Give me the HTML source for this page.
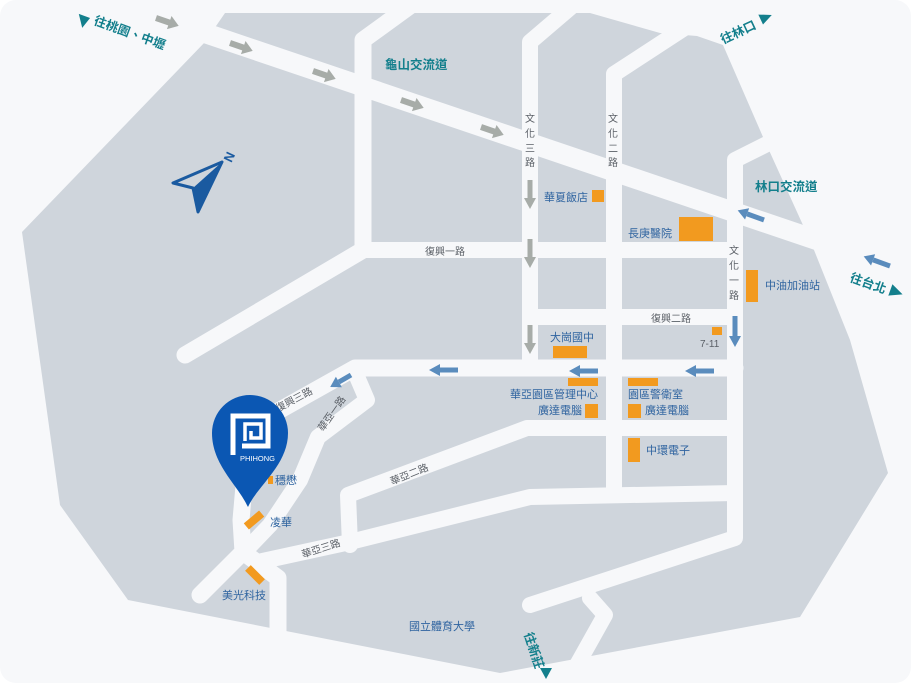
<!DOCTYPE html>
<html><head><meta charset="utf-8"><style>
html,body{margin:0;padding:0;background:#fff;}
svg{display:block;font-family:"Liberation Sans","Noto Sans CJK TC",sans-serif;}
.b{fill:#2f64a0;font-size:11px;}
.g{fill:#5a5f66;font-size:10px;}
.t{fill:#137f8c;font-size:12.5px;font-weight:bold;}
</style></head><body>
<svg width="911" height="683" viewBox="0 0 911 683" xmlns="http://www.w3.org/2000/svg">
<rect x="0" y="0" width="911" height="683" rx="16" fill="#f7f8fa"/>
<polygon fill="#cfd5dc" points="22,232 205,42 225,13 590,13 660,33 697,36 723,45 763,137 812,245 850,340 888,473 800,617 500,673 128,600 60,505"/>
<g fill="none" stroke="#f7f8fa" stroke-linecap="round" stroke-linejoin="round">
<polyline stroke-width="20" points="190,28 911,272"/>
<polyline stroke-width="17" points="425,-5 363,40 363,250 185,355"/>
<polyline stroke-width="16" points="363,250 735,250"/>
<polyline stroke-width="16" points="585,-5 530,42 530,368"/>
<polyline stroke-width="16" points="712,10 614,74 614,493"/>
<polyline stroke-width="16" points="795,130 735,160 735,538 530,605"/>
<polyline stroke-width="16" points="530,317 735,317"/>
<polyline stroke-width="17" points="735,368 355,368 248,428"/>
<polyline stroke-width="16" points="355,372 367,400 318,437 300,480 270,525 248,548"/>
<polyline stroke-width="17" points="248,440 241,520 243,552 200,595"/>
<polyline stroke-width="17" points="243,552 278,578 278,640"/>
<polyline stroke-width="16" points="258,562 350,542 530,497 735,493"/>
<polyline stroke-width="16" points="350,545 348,495 527,428 735,428"/>
<polyline stroke-width="16" points="590,598 605,615 563,690"/>
</g>
<!-- compass -->
<polygon points="222,162 173,183 193,188 198,212" fill="none" stroke="#1a5aa0" stroke-width="3" stroke-linejoin="round"/>
<polygon points="222,162 193,188 198,212" fill="#1a5aa0"/>
<text x="223" y="162" transform="rotate(-65 228 156)" fill="#1a5aa0" font-size="13" font-weight="bold">N</text>
<!-- grey arrows -->
<g fill="#a7aca8">
<g transform="translate(156,18) rotate(19)"><rect x="0" y="-3" width="15" height="6"/><polygon points="14,-7 24,0 14,7"/></g>
<g transform="translate(230,43) rotate(19)"><rect x="0" y="-3" width="15" height="6"/><polygon points="14,-7 24,0 14,7"/></g>
<g transform="translate(313,71) rotate(19)"><rect x="0" y="-3" width="15" height="6"/><polygon points="14,-7 24,0 14,7"/></g>
<g transform="translate(401,100) rotate(19)"><rect x="0" y="-3" width="15" height="6"/><polygon points="14,-7 24,0 14,7"/></g>
<g transform="translate(481,127) rotate(19)"><rect x="0" y="-3" width="15" height="6"/><polygon points="14,-7 24,0 14,7"/></g>
<g transform="translate(530,180) rotate(90)"><rect x="0" y="-2.5" width="18" height="5"/><polygon points="18,-6 29,0 18,6"/></g>
<g transform="translate(530,239) rotate(90)"><rect x="0" y="-2.5" width="18" height="5"/><polygon points="18,-6 29,0 18,6"/></g>
<g transform="translate(530,325) rotate(90)"><rect x="0" y="-2.5" width="18" height="5"/><polygon points="18,-6 29,0 18,6"/></g>
</g>
<!-- blue arrows -->
<g fill="#5a8cbd">
<g transform="translate(764,220) rotate(-160)"><rect x="0" y="-2.5" width="18" height="5"/><polygon points="18,-6 28,0 18,6"/></g>
<g transform="translate(890,266) rotate(-160)"><rect x="0" y="-2.5" width="18" height="5"/><polygon points="18,-6 28,0 18,6"/></g>
<g transform="translate(735,316) rotate(90)"><rect x="0" y="-2.5" width="20" height="5"/><polygon points="20,-6 31,0 20,6"/></g>
<g transform="translate(714,371) rotate(180)"><rect x="0" y="-2.5" width="18" height="5"/><polygon points="18,-6 29,0 18,6"/></g>
<g transform="translate(598,371) rotate(180)"><rect x="0" y="-2.5" width="18" height="5"/><polygon points="18,-6 29,0 18,6"/></g>
<g transform="translate(458,370) rotate(180)"><rect x="0" y="-2.5" width="18" height="5"/><polygon points="18,-6 29,0 18,6"/></g>
<g transform="translate(351,375) rotate(150)"><rect x="0" y="-2.5" width="14" height="5"/><polygon points="14,-6 24,0 14,6"/></g>
</g>
<!-- orange -->
<g fill="#f29a1f">
<rect x="592" y="190" width="12" height="12"/>
<rect x="679" y="217" width="34" height="24"/>
<rect x="746" y="270" width="12" height="32"/>
<rect x="712" y="327" width="10" height="8"/>
<rect x="553" y="346" width="34" height="12"/>
<rect x="568" y="378" width="30" height="8"/>
<rect x="585" y="404" width="13" height="14"/>
<rect x="628" y="378" width="30" height="8"/>
<rect x="628" y="404" width="13" height="14"/>
<rect x="628" y="438" width="12" height="24"/>
<rect x="268" y="476" width="5" height="8"/>
<rect x="250" y="510" width="8" height="20" transform="rotate(50 254 520)"/>
<rect x="251" y="565" width="8" height="20" transform="rotate(-45 255 575)"/>
</g>
<!-- labels -->
<polygon points="77,16 89,16 85,28" fill="#137f8c" transform="rotate(20 84 20)"/>
<text class="t" x="93" y="24" transform="rotate(20 93 24)">往桃園、中壢</text>
<text class="t" x="385" y="69">龜山交流道</text>
<text class="t" x="755" y="191">林口交流道</text>
<text class="t" x="723" y="44" transform="rotate(-25 723 44)">往林口</text>
<polygon points="760,12 772,18 760,23" fill="#137f8c" transform="rotate(-25 765 17)"/>
<text class="t" x="849" y="281" transform="rotate(20 849 281)">往台北</text>
<polygon points="890,286 903,292 890,298" fill="#137f8c" transform="rotate(20 896 292)"/>
<text class="t" x="524" y="634" transform="rotate(72 524 634)">往新莊</text>
<polygon points="540,668 552,668 546,679" fill="#137f8c"/>
<g class="g" text-anchor="middle">
<text x="530" y="122">文</text><text x="530" y="137">化</text><text x="530" y="152">三</text><text x="530" y="166">路</text>
<text x="613" y="122">文</text><text x="613" y="137">化</text><text x="613" y="152">二</text><text x="613" y="166">路</text>
<text x="734" y="254">文</text><text x="734" y="269">化</text><text x="734" y="284">一</text><text x="734" y="299">路</text>
</g>
<text class="g" x="425" y="255">復興一路</text>
<text class="g" x="651" y="322">復興二路</text>
<text class="g" x="700" y="347">7-11</text>
<text class="g" x="278" y="412" transform="rotate(-28 278 412)">復興三路</text>
<text class="g" x="323" y="432" transform="rotate(-55 323 432)">華亞一路</text>
<text class="g" x="392" y="485" transform="rotate(-22 392 485)">華亞二路</text>
<text class="g" x="303" y="558" transform="rotate(-18 303 558)">華亞三路</text>
<text class="b" x="544" y="201">華夏飯店</text>
<text class="b" x="628" y="237">長庚醫院</text>
<text class="b" x="765" y="289">中油加油站</text>
<text class="b" x="550" y="341">大崗國中</text>
<text class="b" x="510" y="398">華亞園區管理中心</text>
<text class="b" x="538" y="414">廣達電腦</text>
<text class="b" x="628" y="398">園區警衛室</text>
<text class="b" x="645" y="414">廣達電腦</text>
<text class="b" x="646" y="454">中環電子</text>
<text class="b" x="275" y="484">穩懋</text>
<text class="b" x="270" y="526">凌華</text>
<text class="b" x="222" y="599">美光科技</text>
<text class="b" x="409" y="630">國立體育大學</text>
<!-- pin -->
<path d="M248,507 C238,485 212,465 212,433 A38,38 0 1 1 288,433 C288,465 258,485 248,507 Z" fill="#0b57b3"/>
<g fill="none" stroke="#fff">
<path d="M233,455 V416 H268 V446 H242" stroke-width="5"/>
<path d="M245,441 V424 H261 V438 H251 V431" stroke-width="3.5"/>
</g>
<text x="240" y="461" fill="#fff" font-size="7.5">PHIHONG</text>
</svg>
</body></html>
